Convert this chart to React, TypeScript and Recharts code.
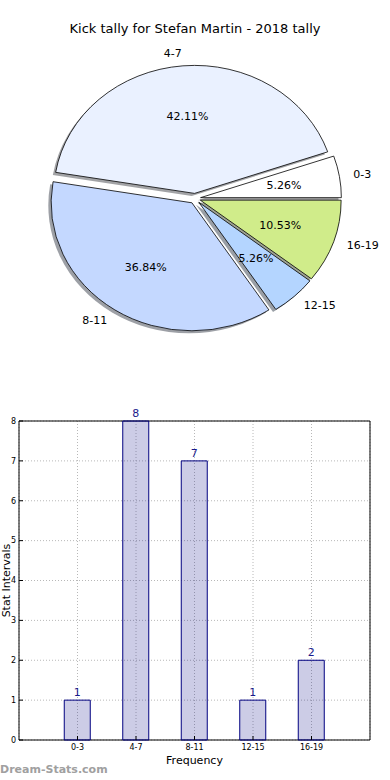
import { PieChart, Pie, BarChart, Bar, XAxis, YAxis, CartesianGrid, LabelList, ReferenceArea } from "recharts";

const categories = ["0-3", "4-7", "8-11", "12-15", "16-19"];
const counts = [1, 8, 7, 1, 2];
const sliceColors = ["#ffffff", "#eaf1ff", "#c4d8ff", "#b4d5ff", "#d0ec8a"];
const yTicks = [0, 1, 2, 3, 4, 5, 6, 7, 8];
const xTicks = [0, 1, 2, 3, 4];

const pieData = categories.map((name, i) => ({ name, value: counts[i] }));
const barData = categories.map((name, i) => ({ x: i, name, value: counts[i] }));

const FONT = "'DejaVu Sans', sans-serif";
const RAD = Math.PI / 180;
const SX = 1.1; // pie is stretched sideways, like the original
const EXPLODE = 0.04;

function wedgePath(x0: number, y0: number, r: number, a0: number, a1: number) {
  const rx = r * SX;
  const p0x = x0 + rx * Math.cos(a0 * RAD);
  const p0y = y0 - r * Math.sin(a0 * RAD);
  const p1x = x0 + rx * Math.cos(a1 * RAD);
  const p1y = y0 - r * Math.sin(a1 * RAD);
  const large = a1 - a0 > 180 ? 1 : 0;
  return `M${x0},${y0} L${p0x},${p0y} A${rx},${r} 0 ${large} 0 ${p1x},${p1y} Z`;
}

function origin(p: any) {
  const mid = ((p.startAngle + p.endAngle) / 2) * RAD;
  const d = EXPLODE * p.outerRadius;
  return { x: p.cx + d * SX * Math.cos(mid), y: p.cy - d * Math.sin(mid), mid };
}

function darken(hex: string) {
  const n = parseInt(hex.slice(1), 16);
  const r = Math.round(((n >> 16) & 255) * 0.3);
  const g = Math.round(((n >> 8) & 255) * 0.3);
  const b = Math.round((n & 255) * 0.3);
  return `rgb(${r},${g},${b})`;
}

const renderShadow = (p: any) => {
  const o = origin(p);
  const s = 0.02 * p.outerRadius;
  return (
    <path
      key={`sh-${p.index}`}
      d={wedgePath(o.x - s * SX, o.y + s, p.outerRadius, p.startAngle, p.endAngle)}
      fill={darken(sliceColors[p.index])}
      fillOpacity={0.5}
      stroke="none"
    />
  );
};

const renderWedge = (p: any) => {
  const o = origin(p);
  const r = p.outerRadius;
  const c = Math.cos(o.mid);
  const s = Math.sin(o.mid);
  const px = o.x + 0.6 * r * SX * c;
  const py = o.y - 0.6 * r * s;
  const lx = o.x + 1.1 * r * SX * c;
  const ly = o.y - 1.1 * r * s;
  return (
    <g key={`w-${p.index}`}>
      <path
        d={wedgePath(o.x, o.y, r, p.startAngle, p.endAngle)}
        fill={sliceColors[p.index]}
        stroke="#000"
        strokeWidth={0.8}
      />
      <text x={px} y={py} textAnchor="middle" dominantBaseline="central" fontSize={11} fill="#000" fontFamily={FONT}>
        {`${(p.percent * 100).toFixed(2)}%`}
      </text>
      <text x={lx} y={ly} textAnchor={c >= 0 ? "start" : "end"} dominantBaseline="central" fontSize={11} fill="#000" fontFamily={FONT}>
        {p.name}
      </text>
    </g>
  );
};

export default function App() {
  return (
    <div style={{ position: "absolute", left: 0, top: 0, width: 390, height: 780, background: "#fff", fontFamily: FONT, overflow: "hidden" }}>
      <div style={{ position: "absolute", left: 0, top: 21, width: 390, textAlign: "center", fontSize: 13, color: "#000" }}>
        Kick tally for Stefan Martin - 2018 tally
      </div>
      <div style={{ position: "absolute", left: 0, top: 0 }}>
        <PieChart width={390} height={360} margin={{ top: 0, right: 0, bottom: 0, left: 0 }}>
          <Pie
            data={pieData}
            dataKey="value"
            nameKey="name"
            cx={195}
            cy={198.5}
            outerRadius={128}
            startAngle={0}
            endAngle={360}
            fill="none"
            stroke="none"
            label={renderShadow}
            labelLine={false}
            isAnimationActive={false}
          />
          <Pie
            data={pieData}
            dataKey="value"
            nameKey="name"
            cx={195}
            cy={198.5}
            outerRadius={128}
            startAngle={0}
            endAngle={360}
            fill="none"
            stroke="none"
            label={renderWedge}
            labelLine={false}
            isAnimationActive={false}
          />
        </PieChart>
      </div>
      <div style={{ position: "absolute", left: 0, top: 400 }}>
        <BarChart width={390} height={380} data={barData} margin={{ top: 21, right: 0, bottom: 20, left: 0 }}>
          <CartesianGrid stroke="#b8b8b8" strokeDasharray="1 2" />
          <XAxis
            dataKey="x"
            type="number"
            domain={[-1, 5]}
            ticks={xTicks}
            tickFormatter={(v: number) => categories[v]}
            tick={{ fontSize: 8, fill: "#000", fontFamily: FONT }}
            tickLine={{ stroke: "#000" }}
            tickSize={-4}
            tickMargin={8}
            axisLine={false}
            height={20}
            interval={0}
          />
          <YAxis
            type="number"
            domain={[0, 8]}
            ticks={yTicks}
            tick={{ fontSize: 8, fill: "#000", fontFamily: FONT }}
            tickLine={{ stroke: "#000" }}
            tickSize={-4}
            tickMargin={7}
            axisLine={false}
            width={19}
            interval={0}
          />
          <YAxis
            yAxisId="r"
            orientation="right"
            type="number"
            domain={[0, 8]}
            ticks={yTicks}
            tick={false}
            tickLine={{ stroke: "#000" }}
            tickSize={-4}
            axisLine={false}
            width={20}
            interval={0}
          />
          <Bar dataKey="value" barSize={26} fill="#000080" fillOpacity={0.2} stroke="#000080" strokeWidth={1} isAnimationActive={false}>
            <LabelList dataKey="value" position="top" offset={4} fill="#1a1a8c" fontSize={11} fontFamily={FONT} />
          </Bar>
          <ReferenceArea x1={-1} x2={5} y1={0} y2={8} fill="none" fillOpacity={0} stroke="#000" strokeWidth={1} />
        </BarChart>
      </div>
      <div style={{ position: "absolute", left: -94.3, top: 574, width: 200, textAlign: "center", fontSize: 11, transform: "rotate(-90deg)", color: "#000" }}>
        Stat Intervals
      </div>
      <div style={{ position: "absolute", left: 19, top: 754, width: 351, textAlign: "center", fontSize: 11, color: "#000" }}>
        Frequency
      </div>
      <div style={{ position: "absolute", left: 0, top: 763, fontSize: 11, fontWeight: "bold", color: "#a0a0a0" }}>
        Dream-Stats.com
      </div>
    </div>
  );
}
